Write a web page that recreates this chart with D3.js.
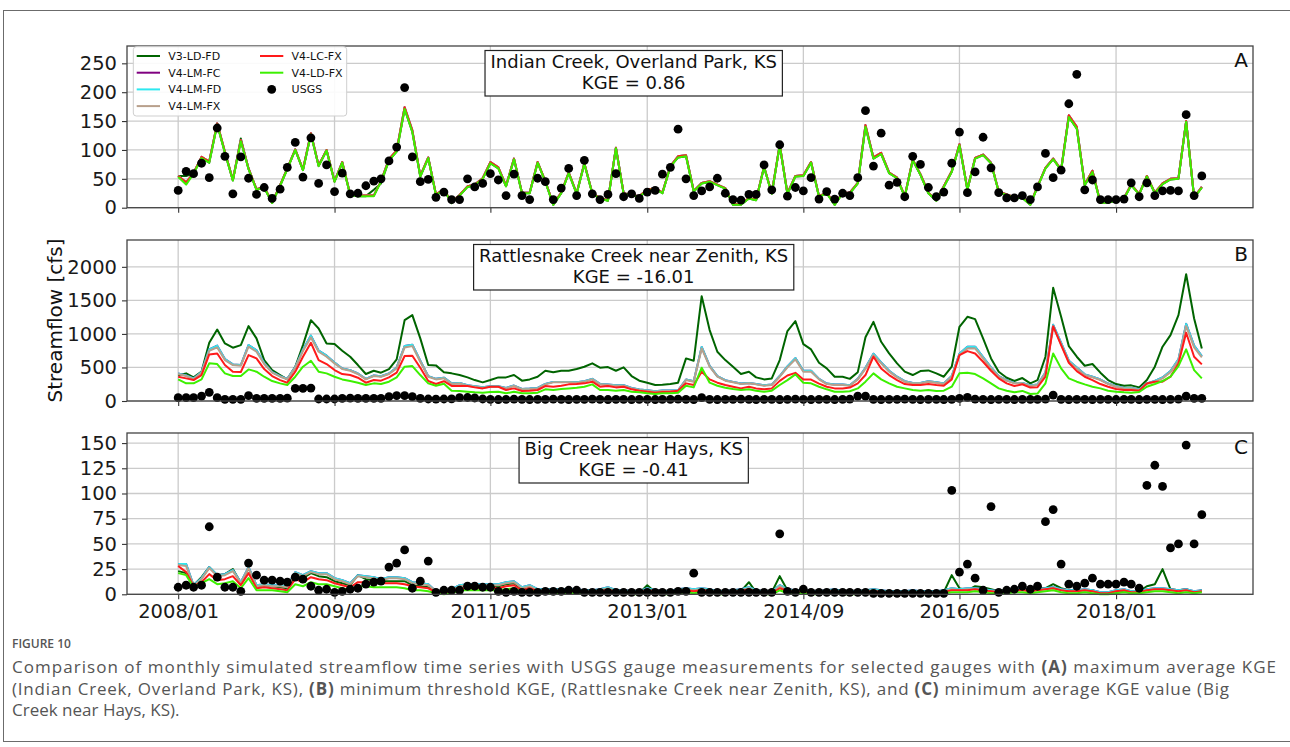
<!DOCTYPE html>
<html>
<head>
<meta charset="utf-8">
<script src="https://cdn.jsdelivr.net/npm/d3@7"></script>
<style>
  body { margin: 0; background: #fff; }
  svg { display: block; }
</style>
</head>
<body>
<svg id="fig" width="1290" height="747"></svg>
<script>
// ---------------- data ----------------
// Monthly series, 2008/01 .. 2018/12 (132 months)
const START = { year: 2008, month: 1 };
const X_TICK_LABELS = ["2008/01", "2009/09", "2011/05", "2013/01", "2014/09", "2016/05", "2018/01"];

const Y_TICKS_A = [0, 50, 100, 150, 200, 250];
const Y_TICKS_B = [0, 500, 1000, 1500, 2000];
const Y_TICKS_C = [0, 25, 50, 75, 100, 125, 150];

const TITLE_A = ["Indian Creek, Overland Park, KS", "KGE = 0.86"];
const TITLE_B = ["Rattlesnake Creek near Zenith, KS", "KGE = -16.01"];
const TITLE_C = ["Big Creek near Hays, KS", "KGE = -0.41"];

// Panel A: Indian Creek, Overland Park
const A_USGS = [30,63,59,77,52,138,89,24,88,51, 23,35,16,32,70,113,53,121,42,74, 28,60,24,25,38,46,50,81,105,208,
  88,45,49,18,27,14,14,50,36,42, 59,48,21,58,21,14,51,45,14,34, 68,21,82,24,14,23,59,19,24,16,
  27,30,58,70,136,50,21,29,36,51, 25,14,13,23,23,74,31,109,20,35, 29,52,15,28,15,25,21,52,168,72,
  129,39,44,19,89,75,35,19,27,77, 131,26,62,122,69,26,17,17,21,14, 36,94,52,65,180,231,31,48,14,14,
  14,15,43,19,43,21,29,30,29,161, 21,55];
const A_V3 = [55,55,59,86,78,144,95,47,120,67, 31,35,8,38,67,100,65,127,72,99, 45,78,22,20,20,31,42,82,97,171,
  131,54,86,22,31,8,21,36,39,50, 77,68,37,84,25,25,78,45,5,25, 60,24,76,24,16,12,103,24,21,19,
  30,33,25,71,87,89,28,42,45,39, 33,5,5,16,13,70,24,108,24,54, 55,78,19,25,5,25,25,42,140,85,
  93,60,51,19,82,57,25,12,36,62, 108,31,85,91,77,27,22,17,17,5, 36,68,84,65,157,137,39,62,8,9,
  12,16,39,23,54,25,41,49,50,149, 17,35];
// V4 LM/LC runs are indistinguishable at this gauge
const A_V4 = [55,44,60,88,80,146,97,48,117,68, 32,36,9,39,68,101,66,129,73,100, 46,79,23,21,21,21,46,84,99,174,
  134,55,87,23,32,9,22,37,40,51, 79,70,38,85,26,26,79,46,6,26, 61,25,77,25,17,13,104,25,22,20,
  31,34,26,72,89,91,29,43,46,40, 34,6,6,17,14,71,25,109,25,55, 56,79,20,26,6,26,26,43,143,87,
  95,61,52,20,83,58,26,13,37,63, 110,32,86,92,78,28,23,18,18,6, 37,69,85,66,160,140,40,64,9,10,
  13,17,40,24,55,26,42,50,51,150, 18,36];
const A_LD = [53,40,59,86,78,144,95,47,115,67, 31,35,8,38,67,100,65,127,72,99, 45,78,22,20,20,20,45,82,97,171,
  131,54,86,22,31,8,21,36,39,50, 77,68,37,84,25,25,78,45,5,25, 60,24,76,24,16,12,103,24,21,19,
  30,33,25,71,87,89,28,42,45,39, 33,5,5,16,13,70,24,108,24,54, 55,78,19,25,5,25,25,42,140,85,
  93,60,51,19,82,57,25,12,36,62, 108,31,85,91,77,27,22,17,17,5, 36,68,84,65,157,137,39,62,8,9,
  12,16,39,23,54,25,41,49,50,149, 17,35];

// Panel B: Rattlesnake Creek near Zenith
const B_USGS = [50,50,50,74,129,50,25,25,25,79, 40,40,38,40,42,188,188,193,30,30, 30,40,42,40,38,40,40,64,79,79,
  64,40,30,28,30,32,50,52,45,30, 25,22,25,28,25,22,25,25,28,25, 22,25,25,28,25,22,25,25,22,25,
  25,22,25,25,28,25,22,50,25,22, 25,25,28,25,22,25,25,22,25,28, 25,22,25,25,22,25,28,74,74,25,
  22,25,25,28,25,22,25,25,22,25, 40,55,28,25,22,25,25,22,25,25, 25,28,89,25,22,25,25,22,25,25,
  22,25,25,22,25,25,22,25,28,74, 40,40];
const B_V3 = [385,412,352,437,868,1066,858,794,833,1116, 933,610,461,387,322,511,833,1205,1081,858,
  848,749,660,536,402,451,422,476,620,1205, 1280,933,536,531,430,412,387,352,312,278,
  312,352,352,387,303,322,362,451,427,451, 451,476,511,561,496,506,451,501,372,303,
  273,238,243,253,273,635,600,1563,1057,734, 610,511,402,437,352,322,337,610,1042,1190,
  848,769,570,486,362,362,330,430,950,1180, 883,709,560,437,387,446,456,412,362,511,
  1106,1255,1220,933,635,437,347,298,342,263, 312,660,1687,1255,818,660,526,551,422,312,
  253,228,233,203,312,511,809,982,1280,1890, 1230,784];
const B_LMFD = [410,380,335,430,770,825,625,545,535,835, 755,565,430,370,330,505,765,975,750,675,
  575,485,460,410,330,380,370,410,500,820, 840,600,370,330,348,262,268,235,220,205,
  220,220,195,230,180,185,195,255,285,285, 285,280,295,330,255,245,235,235,195,170,
  160,145,155,155,160,320,295,805,525,372, 310,285,260,270,255,235,245,372,515,640,
  450,450,330,260,245,245,235,330,495,705, 575,450,362,295,270,270,295,280,260,372,
  705,810,810,655,500,372,310,270,270,230, 245,425,1135,865,600,500,397,362,320,260,
  220,195,195,170,260,300,350,445,620,1150, 825,670];
const B_LMFX = [402,372,327,422,749,799,610,536,526,809, 734,551,422,362,322,496,744,947,734,660,
  561,476,451,402,322,372,362,402,486,799, 818,585,362,322,340,255,260,228,213,198,
  213,213,188,223,174,179,188,248,278,278, 278,273,288,322,248,238,228,228,188,164,
  154,139,149,149,154,312,288,784,511,362, 303,278,253,263,248,228,238,362,501,620,
  437,437,322,253,238,238,228,322,480,684, 560,437,352,288,263,263,288,273,253,362,
  684,784,784,635,486,362,303,263,263,223, 238,412,1106,843,585,486,387,352,312,253,
  213,188,188,164,253,288,337,430,600,1116, 799,650];
const B_LC = [362,337,312,387,694,709,536,437,432,684, 635,476,372,312,273,437,660,868,610,551,
  461,402,387,347,273,312,303,352,422,670, 675,496,298,253,295,225,225,223,203,188,
  213,213,164,188,149,154,164,223,213,228, 248,253,263,288,213,223,203,213,174,154,
  139,124,134,139,154,263,238,437,322,273, 238,213,188,213,188,174,188,300,380,420,
  320,320,260,213,188,188,200,263,387,660, 486,387,312,253,238,238,253,238,228,322,
  684,744,709,585,451,337,263,223,250,200, 205,362,1116,833,570,446,362,312,253,213,
  179,164,164,154,263,288,288,362,560,1017, 660,546];
const B_LD = [322,263,263,322,561,551,412,372,372,471, 437,362,298,263,238,362,511,600,437,412,
  362,322,298,273,238,263,253,288,352,511, 521,387,263,228,258,154,150,139,129,124,
  134,139,114,139,114,114,124,174,164,179, 188,198,213,248,164,164,154,164,139,129,
  114,104,114,114,124,228,203,496,273,228, 198,179,164,174,154,139,154,238,312,397,
  273,263,213,174,139,139,145,188,288,412, 322,263,213,188,164,154,164,149,154,213,
  412,422,402,337,263,188,154,129,150,105, 110,263,709,486,337,288,248,213,188,154,
  139,129,124,134,213,253,298,362,521,769, 461,337];

// Panel C: Big Creek near Hays
const C_USGS = [7,9,7,9,67,17,7,7,3,31, 19,14,14,13,12,17,15,8,4,5, 2,3,5,6,10,12,13,27,31,44,
  6,13,33,2,4,4,4,8,8,7, 7,3,2,3,2,2,2,3,3,3, 4,4,2,2,2,2,2,2,2,2,
  2,2,2,2,3,3,21,2,2,2, 2,2,2,2,2,2,2,60,3,2, 5,2,2,2,2,2,2,2,2,1,
  1,1,1,1,1,1,1,1,1,103, 22,30,16,4,87,2,4,5,8,5, 8,72,84,30,10,8,11,16,10,10,
  10,12,10,6,108,128,107,46,50,148, 50,79];
const C_V3 = [23,21,9,17,27,19,20,25,11,26, 8,9,8,7,6,18,16,21,18,17, 13,11,9,19,15,14,13,13,13,13,
  9,8,7,2,2,4,8,9,9,9, 8,8,10,11,5,7,3,3,3,3, 3,3,2,2,3,5,2,2,1,1,
  9,2,1,1,3,4,3,4,3,1, 1,2,3,12,2,1,2,18,4,2, 2,1,1,2,3,1,1,1,2,5,
  3,2,2,2,2,2,2,2,2,19, 6,4,8,7,5,3,5,4,5,4, 6,6,10,6,4,4,4,4,1,1,
  1,4,1,3,8,10,25,5,4,5, 2,4];
const C_LMFD = [30,30,9,16,27,19,20,24,12,27, 9,10,9,9,8,22,19,23,21,21, 16,14,11,19,18,17,15,17,17,16,
  12,11,10,3,2,5,9,10,10,10, 10,10,12,13,7,9,5,5,5,5, 5,5,4,4,5,7,4,4,3,3,
  6,4,3,3,5,6,5,6,5,3, 3,4,5,7,4,3,3,9,5,4, 4,3,3,4,5,3,3,3,4,5,
  4,3,3,3,4,3,3,3,4,6, 5,6,6,5,4,3,4,5,6,4, 5,6,7,5,4,4,5,4,2,2,
  4,5,3,3,5,6,6,5,4,5, 3,4];
const C_LMFX = [29,28,8,15,26,18,19,23,11,26, 8,9,8,8,7,21,18,22,20,20, 15,13,10,18,17,16,14,16,16,15,
  11,10,9,3,2,4,8,9,9,9, 9,9,11,12,6,8,4,4,4,4, 4,4,3,3,4,6,3,3,2,2,
  5,3,2,2,4,5,4,5,4,2, 2,3,4,6,3,2,2,8,4,3, 3,2,2,3,4,2,2,2,3,4,
  3,2,2,2,3,2,2,2,3,5, 4,5,5,4,3,2,3,4,5,3, 4,5,6,4,3,3,4,3,1,1,
  3,4,2,2,4,5,5,4,3,4, 2,3];
const C_LC = [28,22,8,12,20,14,15,18,9,21, 6,7,6,5,4,15,12,17,15,14, 11,9,7,12,12,12,11,11,11,10,
  8,7,6,2,1,3,6,6,6,7, 7,6,8,9,4,6,3,3,3,3, 3,3,2,2,3,4,2,2,1,1,
  4,2,1,1,3,4,3,4,3,1, 1,2,3,5,2,1,1,6,3,2, 2,1,1,2,3,1,1,1,2,3,
  2,1,1,1,2,1,1,1,2,4, 4,4,5,4,3,2,3,4,4,3, 4,5,6,4,3,3,4,3,1,1,
  3,4,2,2,4,5,5,4,3,4, 2,3];
const C_LD = [21,19,7,11,15,10,11,13,6,16, 4,4,4,3,2,10,8,12,10,10, 8,6,4,8,8,7,7,7,7,6,
  4,4,3,1,0,1,4,4,4,4, 4,4,5,6,2,4,1,1,1,1, 1,1,1,1,1,2,1,1,0,0,
  3,1,0,0,1,2,1,2,1,0, 0,1,1,3,1,0,0,4,1,1, 1,0,0,1,2,0,0,0,1,1,
  1,0,0,0,1,0,0,0,1,2, 2,2,3,2,1,1,1,2,2,1, 2,3,4,2,1,1,2,1,0,0,
  1,2,1,1,2,3,3,2,1,2, 1,2];

// model runs, drawn in this order (last on top)
const RUNS = [
  { name: "V3-LD-FD", color: "#006400", A: A_V3, B: B_V3,   C: C_V3 },
  { name: "V4-LM-FC", color: "#800080", A: A_V4, B: B_LMFD, C: C_LMFD },
  { name: "V4-LM-FD", color: "#2ee8f0", A: A_V4, B: B_LMFD, C: C_LMFD },
  { name: "V4-LM-FX", color: "#b8a08c", A: A_V4, B: B_LMFX, C: C_LMFX },
  { name: "V4-LC-FX", color: "#ff1a1a", A: A_V4, B: B_LC,   C: C_LC },
  { name: "V4-LD-FX", color: "#3cf000", A: A_LD, B: B_LD,   C: C_LD }
];
const OBS = { name: "USGS", A: A_USGS, B: B_USGS, C: C_USGS };

// ---------------- layout ----------------
const svg = d3.select("#fig");
const FONT = "'DejaVu Sans', sans-serif";
const PLOT_LEFT = 127, PLOT_RIGHT = 1253;

const PANELS = [
  { key: "A", top: 46,  bottom: 207.7, yMax: 280,  ticks: Y_TICKS_A, title: TITLE_A, xLabels: false },
  { key: "B", top: 240, bottom: 401,   yMax: 2400, ticks: Y_TICKS_B, title: TITLE_B, xLabels: false },
  { key: "C", top: 433, bottom: 594.3, yMax: 160,  ticks: Y_TICKS_C, title: TITLE_C, xLabels: true }
];

const nMonths = A_USGS.length;
const dates = d3.range(nMonths).map(i => new Date(Date.UTC(START.year, START.month - 1 + i, 1)));
const t0 = +dates[0], t1 = +dates[nMonths - 1], pad = 0.05 * (t1 - t0);
const x = d3.scaleUtc().domain([new Date(t0 - pad), new Date(t1 + pad)]).range([PLOT_LEFT, PLOT_RIGHT]);
const tickDates = X_TICK_LABELS.map(s => {
  const [yy, mm] = s.split("/").map(Number);
  return new Date(Date.UTC(yy, mm - 1, 1));
});

// figure frame
svg.append("rect")
  .attr("x", 3.5).attr("y", 10.5).attr("width", 1300).attr("height", 731)
  .attr("fill", "none").attr("stroke", "#6b6b6b").attr("stroke-width", 1);

PANELS.forEach(p => {
  const y = d3.scaleLinear().domain([0, p.yMax]).range([p.bottom, p.top]);
  const g = svg.append("g");

  // grid
  g.append("g").selectAll("line").data(p.ticks).join("line")
    .attr("x1", PLOT_LEFT).attr("x2", PLOT_RIGHT)
    .attr("y1", d => y(d)).attr("y2", d => y(d))
    .attr("stroke", "#cbcbcb").attr("stroke-width", 1.3);
  g.append("g").selectAll("line").data(tickDates).join("line")
    .attr("x1", d => x(d)).attr("x2", d => x(d))
    .attr("y1", p.top).attr("y2", p.bottom)
    .attr("stroke", "#cbcbcb").attr("stroke-width", 1.3);

  // model lines
  const line = d3.line().x((d, i) => x(dates[i])).y(d => y(d));
  RUNS.forEach(r => {
    g.append("path").datum(r[p.key])
      .attr("d", line)
      .attr("fill", "none")
      .attr("stroke", r.color)
      .attr("stroke-width", 2)
      .attr("stroke-linejoin", "round");
  });

  // gauge observations
  g.append("g").selectAll("circle").data(OBS[p.key]).join("circle")
    .attr("cx", (d, i) => x(dates[i]))
    .attr("cy", d => y(d))
    .attr("r", 4.4)
    .attr("fill", "#000");

  // axes
  const ya = d3.axisLeft(y).tickValues(p.ticks).tickSize(5).tickPadding(5).tickFormat(d3.format("d"));
  const yg = g.append("g").attr("transform", `translate(${PLOT_LEFT},0)`).call(ya);
  const xa = d3.axisBottom(x).tickValues(tickDates).tickSize(5).tickPadding(5)
    .tickFormat((d, i) => p.xLabels ? X_TICK_LABELS[i] : "");
  const xg = g.append("g").attr("transform", `translate(0,${p.bottom})`).call(xa);
  [yg, xg].forEach(a => {
    a.select(".domain").remove();
    a.selectAll(".tick line").attr("stroke", "#333").attr("stroke-width", 1.1);
    a.selectAll(".tick text").attr("fill", "#1a1a1a")
      .style("font-family", FONT).style("font-size", "19.5px");
  });

  // frame
  g.append("rect")
    .attr("x", PLOT_LEFT).attr("y", p.top)
    .attr("width", PLOT_RIGHT - PLOT_LEFT).attr("height", p.bottom - p.top)
    .attr("fill", "none").attr("stroke", "#444").attr("stroke-width", 1.3);

  // station title with KGE
  const cx = PLOT_LEFT + 0.45 * (PLOT_RIGHT - PLOT_LEFT);
  const tb = g.append("g");
  const box = tb.append("rect");
  const tt = tb.append("text")
    .attr("text-anchor", "middle").attr("fill", "#111")
    .style("font-family", FONT).style("font-size", "18px");
  p.title.forEach((s, i) => {
    tt.append("tspan").attr("x", cx).attr("y", p.top + 22 + i * 21).text(s);
  });
  const bb = tt.node().getBBox();
  box.attr("x", cx - bb.width / 2 - 5.5).attr("y", p.top + 4.5)
    .attr("width", bb.width + 11).attr("height", 45.5)
    .attr("fill", "#fff").attr("stroke", "#222").attr("stroke-width", 1.2);

  // panel letter
  g.append("text")
    .attr("x", 1248).attr("y", p.top + 20.5)
    .attr("text-anchor", "end").attr("fill", "#111")
    .style("font-family", FONT).style("font-size", "20px")
    .text(p.key);
});

// y-axis title
svg.append("text")
  .attr("transform", `translate(62,${(240 + 401) / 2}) rotate(-90)`)
  .attr("text-anchor", "middle").attr("fill", "#111")
  .style("font-family", FONT).style("font-size", "20px")
  .text("Streamflow [cfs]");

// legend (panel A)
const leg = svg.append("g");
leg.append("rect")
  .attr("x", 133.3).attr("y", 46.7).attr("width", 213.4).attr("height", 69.3)
  .attr("rx", 3).attr("fill", "#fff").attr("fill-opacity", 0.9)
  .attr("stroke", "#cfcfcf").attr("stroke-width", 1);
const legItems = RUNS.map(r => ({ name: r.name, color: r.color, kind: "line" }))
  .concat([{ name: OBS.name, color: "#000", kind: "dot" }]);
legItems.forEach((it, i) => {
  const col = i < 4 ? 0 : 1;
  const row = i < 4 ? i : i - 4;
  const hx = col === 0 ? 136.7 : 260;
  const cy = 56 + row * 16.7;
  if (it.kind === "line") {
    leg.append("line").attr("x1", hx).attr("x2", hx + 23.3).attr("y1", cy).attr("y2", cy)
      .attr("stroke", it.color).attr("stroke-width", 2);
  } else {
    leg.append("circle").attr("cx", hx + 11.7).attr("cy", cy).attr("r", 4.4).attr("fill", it.color);
  }
  leg.append("text").attr("x", hx + 31.6).attr("y", cy + 4)
    .attr("fill", "#111").style("font-family", FONT).style("font-size", "11px")
    .text(it.name);
});

// caption
const CAP_FONT = "'Open Sans', sans-serif";
svg.append("text").attr("x", 12).attr("y", 647.5)
  .attr("fill", "#555").style("font-family", CAP_FONT).style("font-size", "12px")
  .style("font-weight", 600).text("FIGURE 10");
const CAPTION = [
  { width: 1264, parts: [["Comparison of monthly simulated streamflow time series with USGS gauge measurements for selected gauges with ", 0], ["(A)", 1], [" maximum average KGE", 0]] },
  { width: 1217, parts: [["(Indian Creek, Overland Park, KS), ", 0], ["(B)", 1], [" minimum threshold KGE, (Rattlesnake Creek near Zenith, KS), and ", 0], ["(C)", 1], [" minimum average KGE value (Big", 0]] },
  { width: null, parts: [["Creek near Hays, KS).", 0]] }
];
CAPTION.forEach((ln, i) => {
  const t = svg.append("text").attr("x", 12).attr("y", 673 + i * 21.7)
    .attr("fill", "#555").style("font-family", CAP_FONT).style("font-size", "17px");
  ln.parts.forEach(([s, b]) => t.append("tspan").style("font-weight", b ? 700 : 400).text(s));
  if (ln.width) t.attr("textLength", ln.width).attr("lengthAdjust", "spacing");
});
</script>
</body>
</html>
